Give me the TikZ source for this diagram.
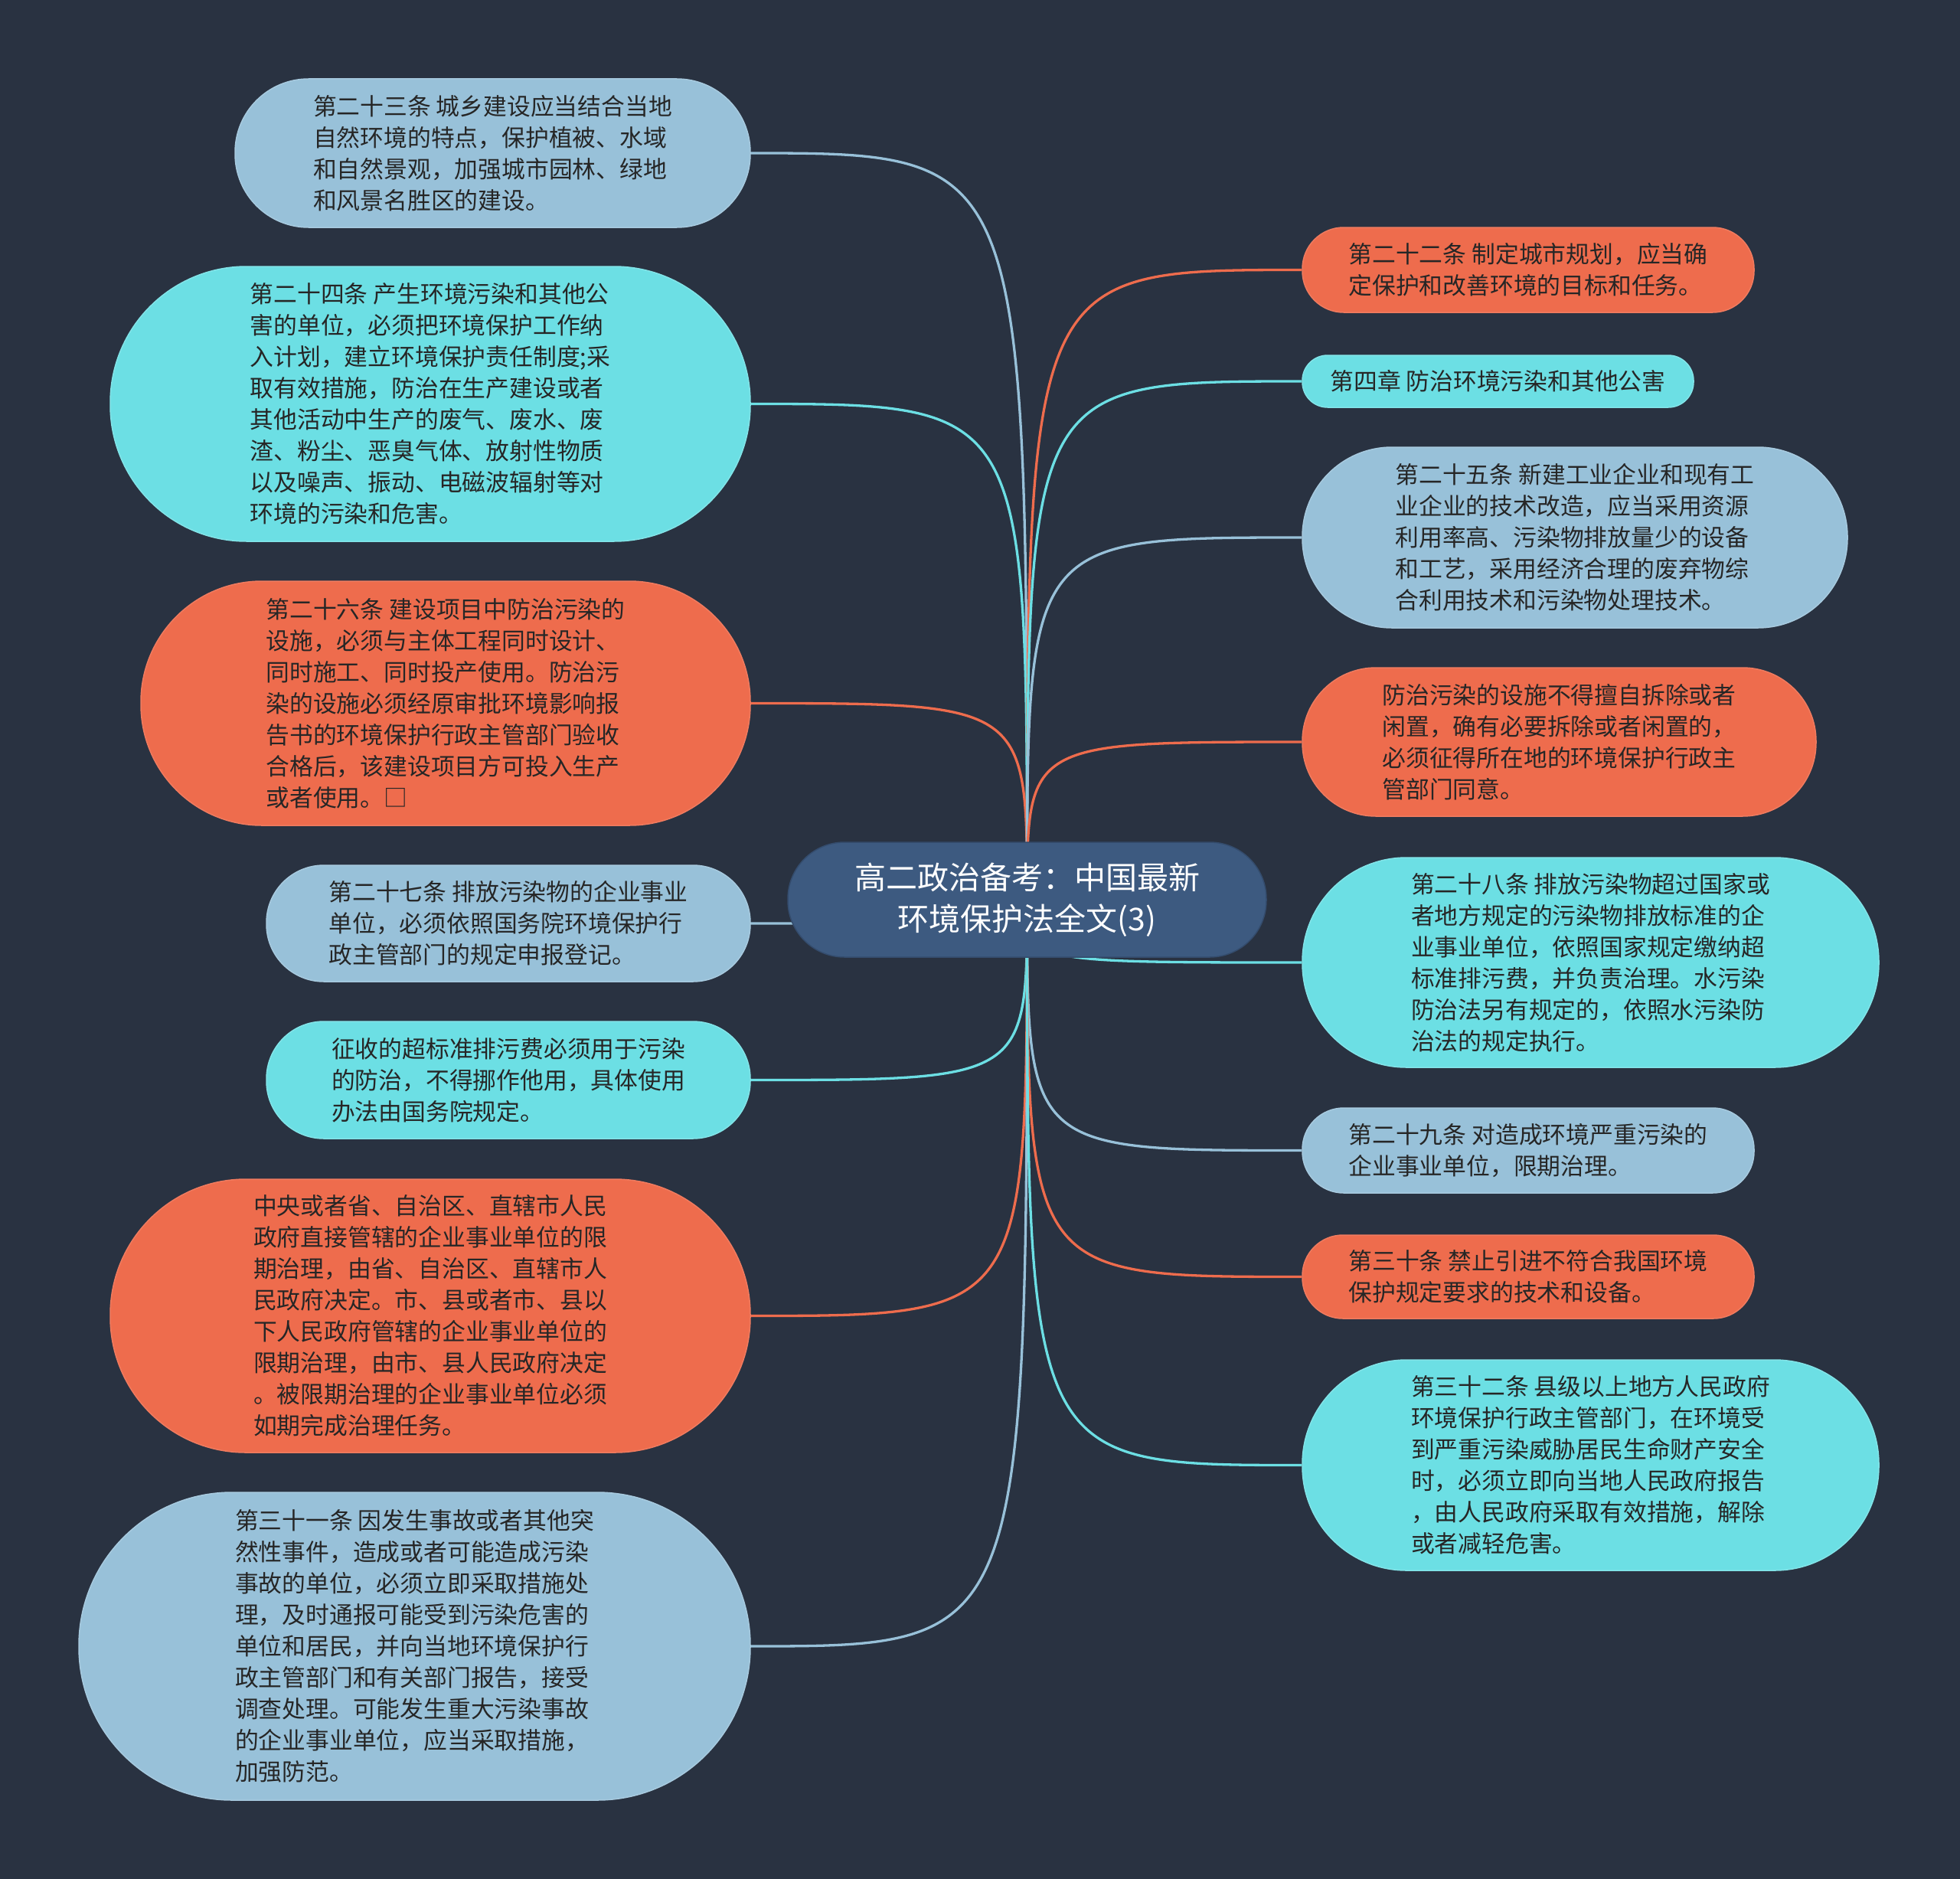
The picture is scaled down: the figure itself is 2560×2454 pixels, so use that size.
\documentclass[tikz,border=0pt]{standalone}
\usepackage{fontspec}
\newfontfamily\cjk{Noto Sans CJK SC}
\pgfdeclarelayer{bg}
\pgfdeclarelayer{lines}
\pgfsetlayers{bg,lines,main}
\definecolor{bgc}{HTML}{293241}
\definecolor{cblue}{HTML}{3D5A80}
\definecolor{clb}{HTML}{98C1D9}
\definecolor{ccy}{HTML}{6CDFE4}
\definecolor{cor}{HTML}{EE6C4D}
\definecolor{ctxt}{HTML}{262626}
\tikzset{
  leaf/.style={font=\cjk\fontsize{30.8}{41}\selectfont, text=ctxt, align=left, inner sep=0pt},
  pill/.style n args={3}{minimum width=#1pt, minimum height=#2pt, rounded corners=#3pt},
  lb/.style={fill=clb, draw=clb!85!white, line width=1.5pt},
  cy/.style={fill=ccy, draw=ccy!85!white, line width=1.5pt},
  orn/.style={fill=cor, draw=cor!90!white, line width=1.5pt},
  conn/.style={line width=3.3pt}
}
\begin{document}
\begin{tikzpicture}[x=1pt,y=-1pt]
\useasboundingbox (0,0) rectangle (2560,2454);
\begin{pgfonlayer}{bg}
\fill[bgc] (0,0) rectangle (2560,2454);
\end{pgfonlayer}

% center
\node[font=\cjk\fontsize{41}{54}\selectfont, text=white, align=center, inner sep=0pt,
      fill=cblue, draw=cblue!85!black, line width=1.5pt, pill={625}{150}{74}] (c) at (1341.5,1175)
  {高二政治备考：中国最新\\环境保护法全文(3)};

% left
\node[leaf, lb, pill={673}{194}{96}] (l1) at (643.5,200)
  {第二十三条 城乡建设应当结合当地\\自然环境的特点，保护植被、水域\\和自然景观，加强城市园林、绿地\\和风景名胜区的建设。};
\node[leaf, cy, pill={836}{359}{178}] (l2) at (562,527.5)
  {第二十四条 产生环境污染和其他公\\害的单位，必须把环境保护工作纳\\入计划，建立环境保护责任制度;采\\取有效措施，防治在生产建设或者\\其他活动中生产的废气、废水、废\\渣、粉尘、恶臭气体、放射性物质\\以及噪声、振动、电磁波辐射等对\\环境的污染和危害。};
\node[leaf, orn, pill={796}{319}{158}] (l3) at (582,918.5)
  {第二十六条 建设项目中防治污染的\\设施，必须与主体工程同时设计、\\同时施工、同时投产使用。防治污\\染的设施必须经原审批环境影响报\\告书的环境保护行政主管部门验收\\合格后，该建设项目方可投入生产\\或者使用。□};
\node[leaf, lb, pill={632}{152}{75}] (l4) at (664,1206)
  {第二十七条 排放污染物的企业事业\\单位，必须依照国务院环境保护行\\政主管部门的规定申报登记。};
\node[leaf, cy, pill={632}{153}{75}] (l5) at (664,1410.5)
  {征收的超标准排污费必须用于污染\\的防治，不得挪作他用，具体使用\\办法由国务院规定。};
\node[leaf, orn, pill={836}{357}{177}] (l6) at (562,1718.5)
  {中央或者省、自治区、直辖市人民\\政府直接管辖的企业事业单位的限\\期治理，由省、自治区、直辖市人\\民政府决定。市、县或者市、县以\\下人民政府管辖的企业事业单位的\\限期治理，由市、县人民政府决定\\。被限期治理的企业事业单位必须\\如期完成治理任务。};
\node[leaf, lb, pill={877}{402}{200}] (l7) at (541.5,2150)
  {第三十一条 因发生事故或者其他突\\然性事件，造成或者可能造成污染\\事故的单位，必须立即采取措施处\\理，及时通报可能受到污染危害的\\单位和居民，并向当地环境保护行\\政主管部门和有关部门报告，接受\\调查处理。可能发生重大污染事故\\的企业事业单位，应当采取措施，\\加强防范。};

% right
\node[leaf, orn, pill={590}{111}{54}] (r1) at (1996,352.5)
  {第二十二条 制定城市规划，应当确\\定保护和改善环境的目标和任务。};
\node[leaf, cy, pill={511}{68}{33}] (r2) at (1956.5,498)
  {第四章 防治环境污染和其他公害};
\node[leaf, lb, pill={712}{236}{117}] (r3) at (2057,702)
  {第二十五条 新建工业企业和现有工\\业企业的技术改造，应当采用资源\\利用率高、污染物排放量少的设备\\和工艺，采用经济合理的废弃物综\\合利用技术和污染物处理技术。};
\node[leaf, orn, pill={671}{194}{96}] (r4) at (2036.5,969)
  {防治污染的设施不得擅自拆除或者\\闲置，确有必要拆除或者闲置的，\\必须征得所在地的环境保护行政主\\管部门同意。};
\node[leaf, cy, pill={753}{274}{136}] (r5) at (2077.5,1257)
  {第二十八条 排放污染物超过国家或\\者地方规定的污染物排放标准的企\\业事业单位，依照国家规定缴纳超\\标准排污费，并负责治理。水污染\\防治法另有规定的，依照水污染防\\治法的规定执行。};
\node[leaf, lb, pill={590}{111}{54}] (r6) at (1996,1502.5)
  {第二十九条 对造成环境严重污染的\\企业事业单位，限期治理。};
\node[leaf, orn, pill={590}{109}{53}] (r7) at (1996,1667.5)
  {第三十条 禁止引进不符合我国环境\\保护规定要求的技术和设备。};
\node[leaf, cy, pill={753}{275}{136}] (r8) at (2077.5,1913.5)
  {第三十二条 县级以上地方人民政府\\环境保护行政主管部门，在环境受\\到严重污染威胁居民生命财产安全\\时，必须立即向当地人民政府报告\\，由人民政府采取有效措施，解除\\或者减轻危害。};

\begin{pgfonlayer}{lines}
\draw[conn, clb] (c.center) .. controls (c.center |- l1.east) .. (l1.east);
\draw[conn, ccy] (c.center) .. controls (c.center |- l2.east) .. (l2.east);
\draw[conn, cor] (c.center) .. controls (c.center |- l3.east) .. (l3.east);
\draw[conn, clb] (c.center) .. controls (c.center |- l4.east) .. (l4.east);
\draw[conn, ccy] (c.center) .. controls (c.center |- l5.east) .. (l5.east);
\draw[conn, cor] (c.center) .. controls (c.center |- l6.east) .. (l6.east);
\draw[conn, clb] (c.center) .. controls (c.center |- l7.east) .. (l7.east);
\draw[conn, cor] (c.center) .. controls (c.center |- r1.west) .. (r1.west);
\draw[conn, ccy] (c.center) .. controls (c.center |- r2.west) .. (r2.west);
\draw[conn, clb] (c.center) .. controls (c.center |- r3.west) .. (r3.west);
\draw[conn, cor] (c.center) .. controls (c.center |- r4.west) .. (r4.west);
\draw[conn, ccy] (c.center) .. controls (c.center |- r5.west) .. (r5.west);
\draw[conn, clb] (c.center) .. controls (c.center |- r6.west) .. (r6.west);
\draw[conn, cor] (c.center) .. controls (c.center |- r7.west) .. (r7.west);
\draw[conn, ccy] (c.center) .. controls (c.center |- r8.west) .. (r8.west);
\end{pgfonlayer}
\end{tikzpicture}
\end{document}
